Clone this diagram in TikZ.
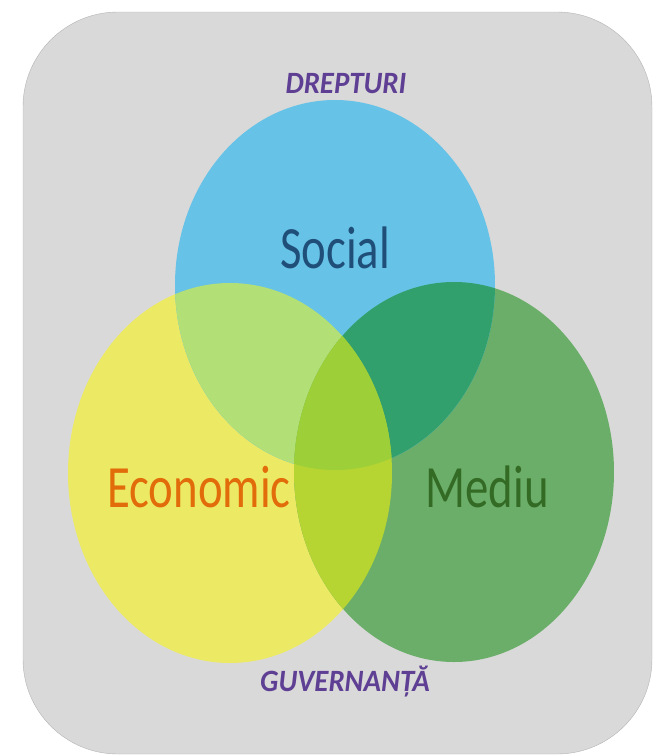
\documentclass[tikz,border=0pt]{standalone}
\usepackage{fontspec}
\setmainfont{Carlito}
\usepackage{tikz}

\definecolor{panelgray}{HTML}{D9D9D9}
\definecolor{panelline}{HTML}{B4B4B4}
\definecolor{socialfill}{HTML}{66C2E6}
\definecolor{econfill}{HTML}{ECEA64}
\definecolor{mediufill}{HTML}{6BAE6A}
\definecolor{socecon}{HTML}{B2DF76}
\definecolor{socmediu}{HTML}{32A06C}
\definecolor{econmediu}{HTML}{B6D533}
\definecolor{allthree}{HTML}{9DCF38}
\definecolor{socialtext}{HTML}{1F4E79}
\definecolor{econtext}{HTML}{E26B0A}
\definecolor{mediutext}{HTML}{336B25}
\definecolor{purpletext}{HTML}{5E3F94}

\begin{document}
\begin{tikzpicture}
  [x=1pt, y=-1pt,
   big/.style={anchor=base, inner sep=0pt, font=\fontsize{60}{62}\selectfont, xscale=0.78},
   small/.style={anchor=base, inner sep=0pt, text=purpletext, font=\fontsize{31}{33}\selectfont\bfseries\itshape, xscale=0.93}]
  \useasboundingbox (0,0) rectangle (654,756);

  % centres of the three sets
  \coordinate (soc) at (335,285);
  \coordinate (eco) at (230,473);
  \coordinate (med) at (454,472);

  % panel
  \draw [panelline, fill=panelgray, rounded corners=95pt] (23,12) rectangle (652,754);

  % the three sets
  \fill [econfill] (eco) ellipse [x radius=162pt, y radius=190pt];
  \fill [mediufill] (med) ellipse [x radius=160pt, y radius=190pt];
  \fill [socialfill] (soc) ellipse [x radius=160pt, y radius=185pt];

  % social and economic
  \begin{scope}
    \clip (soc) ellipse [x radius=160pt, y radius=185pt];
    \fill [socecon] (eco) ellipse [x radius=162pt, y radius=190pt];
  \end{scope}

  % social and mediu
  \begin{scope}
    \clip (soc) ellipse [x radius=160pt, y radius=185pt];
    \fill [socmediu] (med) ellipse [x radius=160pt, y radius=190pt];
  \end{scope}

  % economic and mediu
  \begin{scope}
    \clip (eco) ellipse [x radius=162pt, y radius=190pt];
    \fill [econmediu] (med) ellipse [x radius=160pt, y radius=190pt];
  \end{scope}

  % all three
  \begin{scope}
    \clip (eco) ellipse [x radius=162pt, y radius=190pt];
    \clip (med) ellipse [x radius=160pt, y radius=190pt];
    \fill [allthree] (soc) ellipse [x radius=160pt, y radius=185pt];
  \end{scope}

  % labels
  \node [big, text=socialtext] (social) at (335,268) {Social};
  \node [big, text=econtext] (economic) at (199,507) {Economic};
  \node [big, text=mediutext] (mediu) at (487,507) {Mediu};
  \node [small] (drepturi) at (346,93) {DREPTURI};
  \node [small] (guvernanta) at (345,691) {GUVERNANȚĂ};
\end{tikzpicture}
\end{document}
